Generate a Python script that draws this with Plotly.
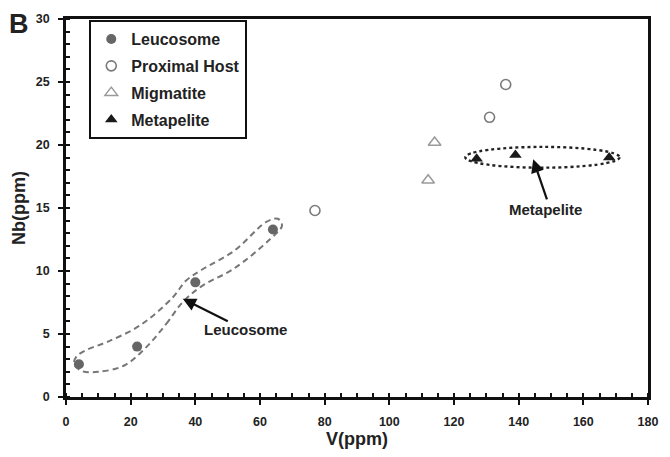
import plotly.graph_objects as go

# ---- data ----
leuco_v = [4, 22, 40, 64]
leuco_nb = [2.6, 4.0, 9.1, 13.3]
host_v = [77, 131, 136]
host_nb = [14.8, 22.2, 24.8]
migm_v = [114, 112]
migm_nb = [20.2, 17.2]
meta_v = [127, 139, 168]
meta_nb = [18.9, 19.2, 19.0]

# outline drawn around the leucosome group (data coords)
leuco_outline_v = [25, 31, 36, 42, 52, 63, 66.8, 65.5, 62, 52, 42, 37, 33, 23, 13, 6, 3.2,
                   2.5, 5, 10, 18, 25]
leuco_outline_nb = [4.0, 5.8, 7.5, 8.8, 10.2, 12.5, 13.6, 14.15, 13.9, 11.6, 10.1, 9.2, 7.9,
                    5.7, 4.4, 3.7, 3.2, 2.6, 2.05, 2.0, 2.5, 4.0]

FONT = "Liberation Sans, Arial, sans-serif"

fig = go.Figure()

fig.add_trace(go.Scatter(x=leuco_outline_v, y=leuco_outline_nb, mode="lines",
                         line=dict(color="#777777", width=2, dash="6px,4px", shape="spline",
                                   smoothing=1.0),
                         showlegend=False, hoverinfo="skip"))

fig.add_trace(go.Scatter(x=leuco_v, y=leuco_nb, mode="markers", name="Leucosome",
                         legendgroup="a",
                         marker=dict(symbol="circle", size=10, color="#666666")))
fig.add_trace(go.Scatter(x=host_v, y=host_nb, mode="markers", name="Proximal Host",
                         legendgroup="b",
                         marker=dict(symbol="circle-open", size=10, color="#7a7a7a",
                                     line=dict(width=1.6, color="#7a7a7a"))))
fig.add_trace(go.Scatter(x=migm_v, y=migm_nb, mode="markers", name="Migmatite",
                         legendgroup="c",
                         marker=dict(symbol="triangle-up-open", size=11, color="#9a9a9a",
                                     line=dict(width=1.5, color="#9a9a9a"))))
fig.add_trace(go.Scatter(x=meta_v, y=meta_nb, mode="markers", name="Metapelite",
                         legendgroup="d",
                         marker=dict(symbol="triangle-up", size=11, color="#1a1a1a")))

# dotted ellipse around metapelite group
fig.add_shape(type="circle", xref="x", yref="y", x0=123.5, x1=171.2, y0=18.2, y1=19.85,
              line=dict(color="#222222", width=2.4, dash="dot"))

# labelled arrows
fig.add_annotation(x=36.1, y=7.8, ax=50.5, ay=5.95, xref="x", yref="y", axref="x", ayref="y",
                   text="", showarrow=True, arrowhead=2, arrowsize=1.2, arrowwidth=2.2,
                   arrowcolor="#111111")
fig.add_annotation(x=55.6, y=5.35, xref="x", yref="y", text="Leucosome", showarrow=False,
                   font=dict(family=FONT, size=15, color="#222222", weight="bold"))
fig.add_annotation(x=144.5, y=18.86, ax=148.9, ay=15.56, xref="x", yref="y", axref="x", ayref="y",
                   text="", showarrow=True, arrowhead=2, arrowsize=1.2, arrowwidth=2.2,
                   arrowcolor="#111111")
fig.add_annotation(x=148.4, y=14.86, xref="x", yref="y", text="Metapelite", showarrow=False,
                   font=dict(family=FONT, size=15, color="#222222", weight="bold"))

# panel letter
fig.add_annotation(x=-0.080, y=0.987, xref="paper", yref="paper", text="B",
                   showarrow=False, xanchor="center", yanchor="middle",
                   font=dict(family=FONT, size=27, color="#222222", weight="bold"))

axis_common = dict(showline=True, linewidth=2.5, linecolor="#111111", mirror=True,
                   ticks="outside", ticklen=5, tickwidth=2, tickcolor="#111111",
                   showgrid=False, zeroline=False,
                   tickfont=dict(family=FONT, size=12.5, color="#222222", weight="bold"))

fig.update_xaxes(range=[0, 180], dtick=20, tick0=0, ticklabelstandoff=6,
                 minor=dict(dtick=5, ticks="inside", ticklen=4, tickwidth=1.5, tickcolor="#111111"),
                 title=dict(text="V(ppm)", standoff=4,
                            font=dict(family=FONT, size=18, color="#222222", weight="bold")),
                 **axis_common)
fig.update_yaxes(range=[0, 30], dtick=5, tick0=0, ticklabelstandoff=6,
                 minor=dict(dtick=1, ticks="inside", ticklen=4, tickwidth=1.5, tickcolor="#111111"),
                 title=dict(text="Nb(ppm)", standoff=6,
                            font=dict(family=FONT, size=18, color="#222222", weight="bold")),
                 **axis_common)

fig.update_layout(
    width=670, height=457,
    margin=dict(l=66, r=19, t=13, b=59),
    plot_bgcolor="white", paper_bgcolor="white",
    legend=dict(x=0.040, y=0.997, xanchor="left", yanchor="top",
                bordercolor="#111111", borderwidth=2, bgcolor="white",
                font=dict(family=FONT, size=16, color="#222222", weight="bold"),
                itemwidth=30, tracegroupgap=3),
)

fig.write_html("out.html")
